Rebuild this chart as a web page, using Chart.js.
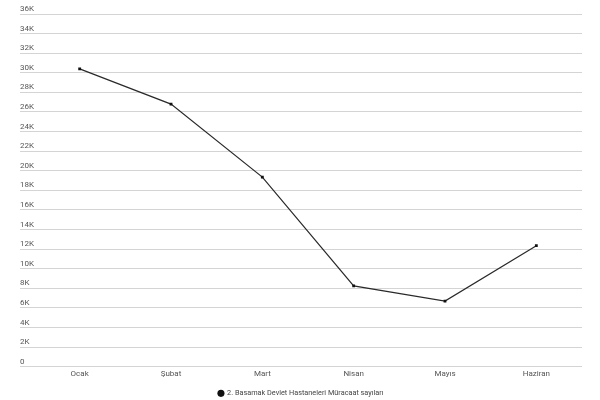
<!DOCTYPE html>
<html>
<head>
<meta charset="utf-8">
<script src="https://cdn.jsdelivr.net/npm/chart.js@4"></script>
<style>
html,body{margin:0;padding:0;background:#fff;}
#wrap{width:600px;height:400px;}
</style>
</head>
<body>
<div id="wrap"><canvas id="c" width="600" height="400"></canvas></div>
<script>
const categories = ["Ocak", "Şubat", "Mart", "Nisan", "Mayıs", "Haziran"];
const seriesLabel = "2. Basamak Devlet Hastaneleri Müracaat sayıları";
const seriesValues = [30400, 26800, 19350, 8250, 6700, 12350];
const yTickStep = 2000;
const yMax = 36000;

new Chart(document.getElementById('c'), {
  type: 'line',
  data: {
    labels: categories,
    datasets: [{
      label: seriesLabel,
      data: seriesValues,
      borderColor: '#2a2a2a',
      backgroundColor: '#111',
      borderWidth: 1.2,
      pointStyle: 'rect',
      pointRadius: 2,
      pointBackgroundColor: '#111',
      pointBorderColor: '#111',
      pointBorderWidth: 0,
      tension: 0,
      fill: false
    }]
  },
  options: {
    responsive: false,
    animation: false,
    devicePixelRatio: 1,
    layout: { padding: { left: 20, right: 18, top: 14, bottom: -7 } },
    plugins: {
      legend: {
        position: 'bottom',
        labels: {
          usePointStyle: true,
          pointStyle: 'circle',
          boxWidth: 5,
          boxHeight: 5,
          padding: 2,
          color: '#444',
          font: { family: 'Roboto', size: 7.3 }
        }
      },
      tooltip: { enabled: false }
    },
    scales: {
      x: {
        offset: true,
        afterFit: (s) => { s.height = 21; },
        grid: { display: false, drawTicks: false },
        border: { display: false },
        ticks: { color: '#555', padding: 2, font: { family: 'Roboto', size: 8 } }
      },
      y: {
        min: 0,
        max: yMax,
        afterFit: (s) => { s.width = 14; },
        grid: { color: '#d4d4d4', lineWidth: 1, drawTicks: true, tickLength: 14 },
        border: { display: false },
        ticks: {
          stepSize: yTickStep,
          crossAlign: 'far',
          labelOffset: -5,
          padding: 0,
          color: '#555',
          font: { family: 'Roboto', size: 8 },
          callback: (v) => v === 0 ? '0' : (v / 1000) + 'K'
        }
      }
    }
  }
});
</script>
</body>
</html>
